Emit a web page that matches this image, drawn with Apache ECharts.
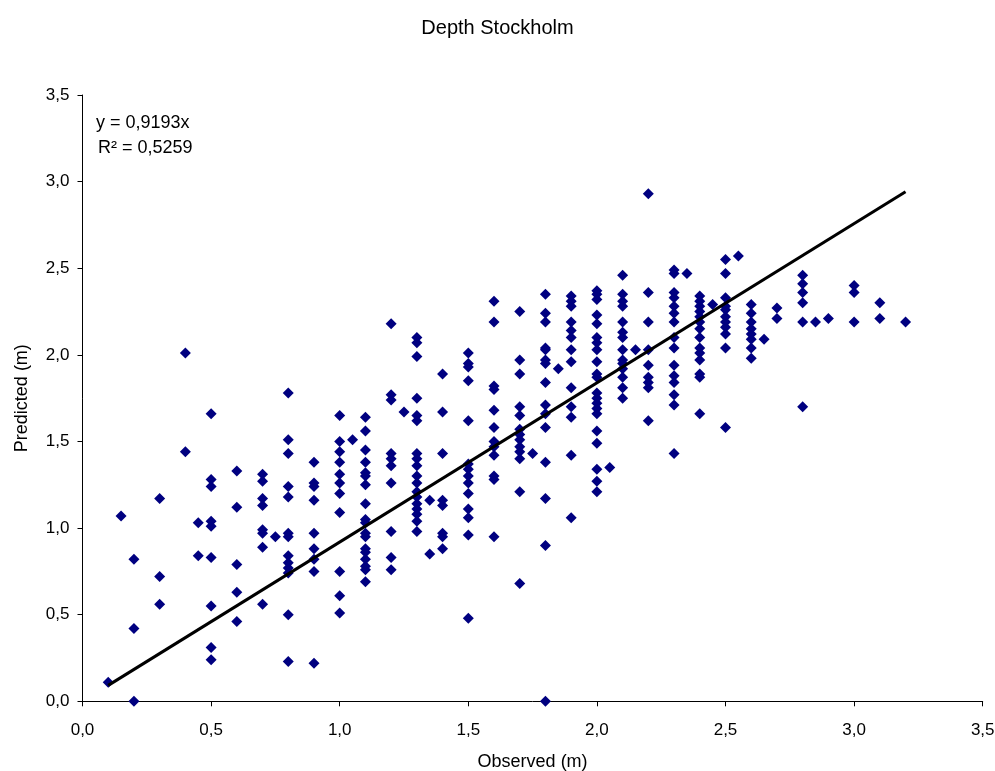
<!DOCTYPE html>
<html>
<head>
<meta charset="utf-8">
<title>Depth Stockholm</title>
<script src="https://cdn.jsdelivr.net/npm/echarts@6/dist/echarts.min.js"></script>
<style>
  html, body { margin: 0; padding: 0; background: #fff; }
  #chart { width: 995px; height: 771px; }
</style>
</head>
<body>
<div id="chart"></div>
<script>
// Observed depth levels (m) and the predicted depths (m) recorded at each level
const observedLevels = [
  0.1, 0.15, 0.2, 0.3, 0.4, 0.45, 0.5, 0.6, 0.7, 0.75, 0.8, 0.9, 1.0, 1.05, 1.1,
  1.2, 1.25, 1.3, 1.35, 1.4, 1.5, 1.6, 1.7, 1.75, 1.8, 1.85, 1.9, 2.0, 2.05, 2.1,
  2.15, 2.2, 2.3, 2.35, 2.4, 2.45, 2.5, 2.55, 2.6, 2.65, 2.7, 2.8, 2.85, 2.9, 3.0,
  3.1, 3.2
];

const predictedAtLevel = [
  [0.11],
  [1.07],
  [0.82, 0.42, 0.0],
  [1.17, 0.72, 0.56],
  [2.01, 1.44],
  [1.03, 0.84],
  [1.66, 1.28, 1.24, 1.04, 1.01, 0.83, 0.55, 0.31, 0.24],
  [1.33, 1.12, 0.79, 0.63, 0.46],
  [1.31, 1.27, 1.17, 1.13, 0.99, 0.97, 0.89, 0.56],
  [0.95],
  [1.78, 1.51, 1.43, 1.24, 1.18, 0.97, 0.95, 0.84, 0.80, 0.77, 0.74, 0.50, 0.23],
  [1.38, 1.26, 1.24, 1.16, 0.97, 0.88, 0.82, 0.75, 0.22],
  [1.65, 1.50, 1.44, 1.38, 1.31, 1.26, 1.20, 1.09, 0.75, 0.61, 0.51],
  [1.51],
  [1.64, 1.56, 1.45, 1.38, 1.32, 1.30, 1.25, 1.14, 1.05, 1.03, 0.97, 0.95, 0.88, 0.86, 0.82, 0.78, 0.76, 0.69],
  [2.18, 1.77, 1.74, 1.43, 1.40, 1.36, 1.26, 0.98, 0.83, 0.76],
  [1.67],
  [2.10, 2.07, 1.99, 1.75, 1.65, 1.62, 1.43, 1.40, 1.36, 1.30, 1.26, 1.21, 1.18, 1.14, 1.11, 1.08, 1.04, 0.98],
  [1.16, 0.85],
  [1.89, 1.67, 1.43, 1.16, 1.13, 0.97, 0.95, 0.88],
  [2.01, 1.95, 1.93, 1.85, 1.62, 1.37, 1.34, 1.30, 1.26, 1.20, 1.11, 1.06, 0.96, 0.48],
  [2.31, 2.19, 1.82, 1.80, 1.68, 1.58, 1.50, 1.47, 1.42, 1.30, 1.28, 0.95],
  [2.25, 1.97, 1.89, 1.70, 1.65, 1.57, 1.54, 1.51, 1.47, 1.44, 1.40, 1.21, 0.68],
  [1.43],
  [2.35, 2.24, 2.19, 2.04, 2.03, 1.97, 1.95, 1.84, 1.71, 1.66, 1.58, 1.38, 1.17, 0.90, 0.0],
  [1.92],
  [2.34, 2.31, 2.28, 2.19, 2.14, 2.10, 2.03, 1.96, 1.81, 1.70, 1.64, 1.42, 1.06],
  [2.37, 2.35, 2.32, 2.23, 2.18, 2.10, 2.07, 2.03, 1.96, 1.89, 1.87, 1.78, 1.75, 1.72, 1.69, 1.66, 1.56, 1.49, 1.34, 1.27, 1.21],
  [1.35],
  [2.46, 2.35, 2.31, 2.28, 2.19, 2.13, 2.10, 2.03, 1.97, 1.95, 1.92, 1.87, 1.81, 1.75],
  [2.03],
  [2.93, 2.36, 2.19, 2.03, 1.94, 1.87, 1.84, 1.81, 1.62],
  [2.49, 2.47, 2.36, 2.33, 2.28, 2.24, 2.19, 2.10, 2.04, 1.94, 1.88, 1.84, 1.77, 1.71, 1.43],
  [2.47],
  [2.34, 2.31, 2.28, 2.25, 2.22, 2.19, 2.15, 2.10, 2.04, 2.01, 1.97, 1.89, 1.87, 1.66],
  [2.29],
  [2.55, 2.47, 2.33, 2.28, 2.26, 2.22, 2.19, 2.16, 2.12, 2.04, 1.58],
  [2.57],
  [2.29, 2.24, 2.19, 2.15, 2.12, 2.09, 2.04, 1.98],
  [2.09],
  [2.27, 2.21],
  [2.46, 2.41, 2.36, 2.30, 2.19, 1.70],
  [2.19],
  [2.21],
  [2.40, 2.36, 2.19],
  [2.30, 2.21],
  [2.19]
];

// Linear trend through the origin and its fit statistics
const trendSlope = 0.9193;
const trendRange = [0.1, 3.2];
const trendEquation = 'y = 0,9193x';
const trendRSquared = 'R² = 0,5259';

// Axis scale shared by both axes
const axisMin = 0;
const axisMax = 3.5;
const axisStep = 0.5;

const FONT = '"Liberation Sans", Arial, sans-serif';

const scatterData = [];
observedLevels.forEach(function (obs, i) {
  predictedAtLevel[i].forEach(function (pred) {
    scatterData.push([obs, pred]);
  });
});

const trendData = trendRange.map(function (x) { return [x, x * trendSlope]; });

const commaFormat = function (v) { return v.toFixed(1).replace('.', ','); };

function valueAxis(name, nameGap, labelMargin, rotate) {
  return {
    type: 'value',
    min: axisMin,
    max: axisMax,
    interval: axisStep,
    name: name,
    nameLocation: 'middle',
    nameGap: nameGap,
    nameRotate: rotate,
    nameTextStyle: { fontFamily: FONT, fontSize: 18, color: '#000' },
    axisLine: { show: true, onZero: false, lineStyle: { color: '#000', width: 1 } },
    axisTick: { show: true, inside: false, length: 5, lineStyle: { color: '#000', width: 1 } },
    axisLabel: {
      formatter: commaFormat, fontFamily: FONT, fontSize: 17, color: '#000', margin: labelMargin
    },
    splitLine: { show: false }
  };
}

const chart = echarts.init(document.getElementById('chart'), null, { renderer: 'canvas' });

chart.setOption({
  animation: false,
  backgroundColor: '#fff',
  title: {
    text: 'Depth Stockholm',
    left: 'center',
    top: 13,
    textStyle: { fontFamily: FONT, fontSize: 20, fontWeight: 'normal', color: '#000' }
  },
  grid: {
    left: 82.5, right: 12.3, top: 95, bottom: 69.7,
    containLabel: false, outerBoundsMode: 'none'
  },
  xAxis: valueAxis('Observed (m)', 52, 21, 0),
  yAxis: valueAxis('Predicted (m)', 51, 13, 90),
  graphic: [
    {
      type: 'text', left: 96, top: 114,
      style: { text: trendEquation, font: '18px ' + FONT, fill: '#000' }
    },
    {
      type: 'text', left: 98, top: 139,
      style: { text: trendRSquared, font: '18px ' + FONT, fill: '#000' }
    }
  ],
  series: [
    {
      type: 'scatter',
      data: scatterData,
      symbol: 'diamond',
      symbolSize: 11,
      itemStyle: { color: '#000080', opacity: 1 },
      z: 2
    },
    {
      type: 'line',
      data: trendData,
      showSymbol: false,
      symbol: 'none',
      lineStyle: { color: '#000', width: 3 },
      z: 3
    }
  ]
});
</script>
</body>
</html>
